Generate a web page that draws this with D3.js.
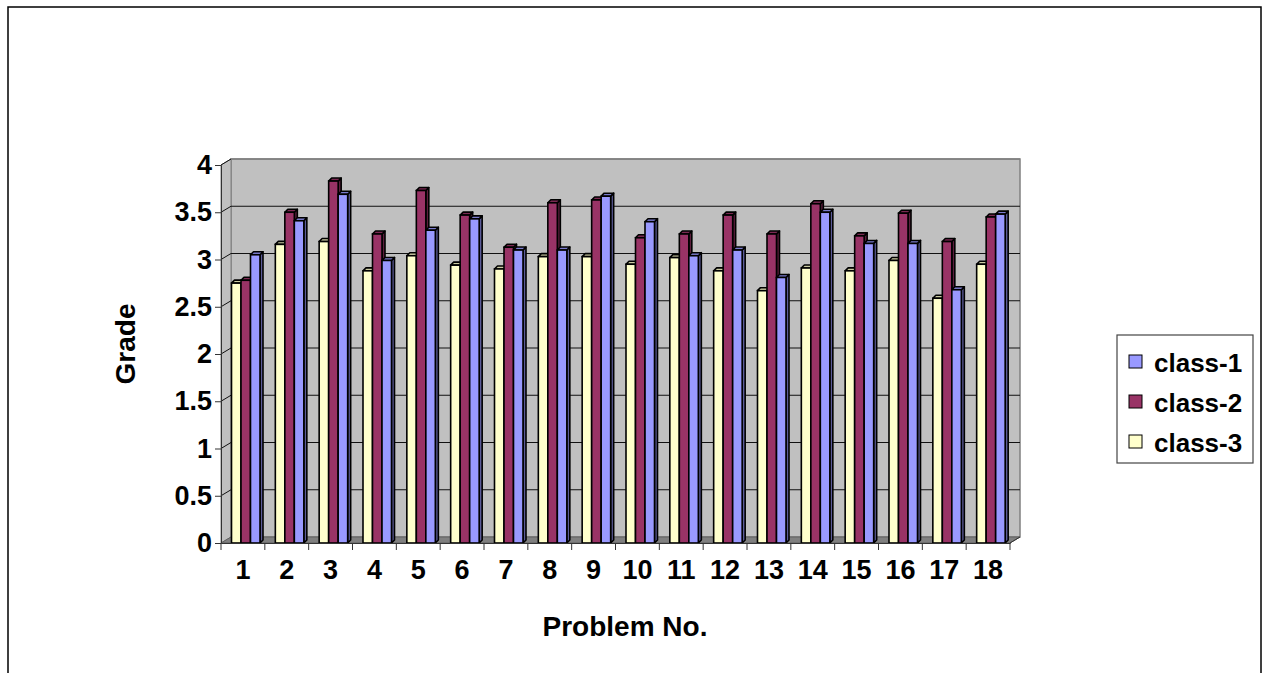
<!DOCTYPE html>
<html>
<head>
<meta charset="utf-8">
<script src="https://cdn.jsdelivr.net/npm/d3@7"></script>
<style>
  body { margin: 0; background: #fff; }
  text { font-family: "Liberation Sans", Arial, sans-serif; font-weight: bold; }
</style>
</head>
<body>
<div id="container"></div>
<script>
let w = 1269;
let h = 673;

// data
let problems = ["1","2","3","4","5","6","7","8","9","10","11","12","13","14","15","16","17","18"];
let seriesNames = ["class-3","class-2","class-1"];
let legendNames = ["class-1","class-2","class-3"];
let class1 = [3.05,3.41,3.69,2.99,3.31,3.43,3.10,3.10,3.67,3.40,3.04,3.10,2.81,3.50,3.17,3.17,2.68,3.48];
let class2 = [2.78,3.50,3.83,3.27,3.73,3.47,3.13,3.60,3.63,3.23,3.27,3.47,3.27,3.59,3.25,3.49,3.19,3.45];
let class3 = [2.75,3.16,3.19,2.88,3.04,2.94,2.90,3.03,3.03,2.95,3.02,2.88,2.67,2.91,2.88,2.99,2.59,2.95];
let yTicks = [0,0.5,1,1.5,2,2.5,3,3.5,4];

let values = {"class-1": class1, "class-2": class2, "class-3": class3};
let fills = {"class-1": "#9999FF", "class-2": "#993366", "class-3": "#FFFFCC"};
let sides = {"class-1": "#5C5C99", "class-2": "#5C1F3D", "class-3": "#99997A"};
let tops = {"class-1": "#7A7ACC", "class-2": "#7A2952", "class-3": "#CCCCA3"};

let viz = d3.select("#container")
  .append("svg")
    .attr("width", w)
    .attr("height", h)
    .style("background-color", "white")
;

// outer chart border
viz.append("rect")
  .attr("x", 8).attr("y", 7)
  .attr("width", 1253).attr("height", 720)
  .attr("fill", "none")
  .attr("stroke", "black")
  .attr("stroke-width", 1.5)
;

let left = 221, right = 1010;
let dx = 10, dy = -6;   // depth of the back wall

let xScale = d3.scaleBand().domain(problems).range([left, right]);
let yScale = d3.scaleLinear().domain([0, 4]).range([543, 165]);
let subScale = d3.scaleBand().domain(seriesNames).range([10.5, 39]);
let depth = 3;

let y0 = yScale(0), yTop = yScale(4);

// back wall
viz.append("rect")
  .attr("x", left + dx).attr("y", yTop + dy)
  .attr("width", right - left).attr("height", y0 - yTop)
  .attr("fill", "#C0C0C0")
  .attr("stroke", "#808080")
  .attr("stroke-width", 1.5)
;
// left side wall
viz.append("path")
  .attr("d", "M" + left + "," + y0 + "L" + left + "," + yTop + "L" + (left + dx) + "," + (yTop + dy) +
    "L" + (left + dx) + "," + (y0 + dy) + "Z")
  .attr("fill", "#C0C0C0")
  .attr("stroke", "#808080")
;
// floor
viz.append("path")
  .attr("d", "M" + left + "," + y0 + "L" + right + "," + y0 + "L" + (right + dx) + "," + (y0 + dy) +
    "L" + (left + dx) + "," + (y0 + dy) + "Z")
  .attr("fill", "#808080")
  .attr("stroke", "#606060")
;

// gridlines on the back wall and side wall
let grid = viz.selectAll(".grid").data(yTicks.slice(1)).enter().append("g").classed("grid", true);
grid.append("line")
  .attr("x1", left + dx).attr("x2", right + dx)
  .attr("y1", d => yScale(d) + dy).attr("y2", d => yScale(d) + dy)
  .attr("stroke", d => d == 4 ? "#808080" : "#111")
  .attr("stroke-width", d => d == 4 ? 1.5 : 1.2)
;
grid.append("line")
  .attr("x1", left).attr("x2", left + dx)
  .attr("y1", d => yScale(d)).attr("y2", d => yScale(d) + dy)
  .attr("stroke", "#111")
;

// bars
function barData() {
  let out = [];
  problems.forEach(function(p, i) {
    seriesNames.forEach(function(s) {
      out.push({problem: p, series: s, value: values[s][i]});
    });
  });
  return out;
}

let bw = subScale.bandwidth();
let bars = viz.selectAll(".bar").data(barData()).enter()
  .append("g")
    .classed("bar", true)
    .attr("transform", d => "translate(" + (xScale(d.problem) + subScale(d.series)) + ",0)")
;
bars.append("path")
  .attr("d", function(d) {
    let t = yScale(d.value);
    return "M" + bw + "," + t + "L" + (bw + depth) + "," + (t - depth) + "L" + (bw + depth) + "," + (y0 - depth) +
      "L" + bw + "," + y0 + "Z";
  })
  .attr("fill", d => sides[d.series])
  .attr("stroke", "black")
  .attr("stroke-width", 1.6)
  .attr("stroke-linejoin", "round")
;
bars.append("path")
  .attr("d", function(d) {
    let t = yScale(d.value);
    return "M0," + t + "L" + depth + "," + (t - depth) + "L" + (bw + depth) + "," + (t - depth) + "L" + bw + "," + t + "Z";
  })
  .attr("fill", d => tops[d.series])
  .attr("stroke", "black")
  .attr("stroke-width", 1.6)
  .attr("stroke-linejoin", "round")
;
bars.append("rect")
  .attr("x", 0)
  .attr("y", d => yScale(d.value))
  .attr("width", bw)
  .attr("height", d => y0 - yScale(d.value))
  .attr("fill", d => fills[d.series])
  .attr("stroke", "black")
  .attr("stroke-width", 1.6)
;

// y axis
let yAxis = d3.axisLeft(yScale).tickValues(yTicks).tickSize(6).tickPadding(3).tickFormat(d3.format("~g"));
let yg = viz.append("g").attr("transform", "translate(" + left + ",0)").call(yAxis);
yg.select(".domain").attr("stroke", "#333");
yg.selectAll(".tick line").attr("stroke", "#333");
yg.selectAll("text").attr("font-size", 27).attr("fill", "black").attr("font-family", null);

// x axis
let xAxis = d3.axisBottom(xScale).tickSize(0).tickPadding(17);
let xg = viz.append("g").attr("transform", "translate(0," + y0 + ")").call(xAxis);
xg.select(".domain").attr("stroke", "#333");
xg.selectAll("text").attr("font-size", 27).attr("fill", "black").attr("font-family", null);
xg.selectAll(".sep").data(problems.concat(["end"])).enter().append("line")
  .attr("x1", (d, i) => left + i * xScale.step()).attr("x2", (d, i) => left + i * xScale.step())
  .attr("y1", 0).attr("y2", 7)
  .attr("stroke", "#333")
;
// right floor edge
viz.append("line")
  .attr("x1", right).attr("y1", y0).attr("x2", right + dx).attr("y2", y0 + dy)
  .attr("stroke", "#333");

// axis titles
viz.append("text")
  .text("Problem No.")
  .attr("x", 625).attr("y", 636)
  .attr("text-anchor", "middle")
  .attr("font-size", 28)
;
viz.append("text")
  .text("Grade")
  .attr("transform", "translate(135,344) rotate(-90)")
  .attr("text-anchor", "middle")
  .attr("font-size", 28)
;

// legend
let legend = viz.append("g");
legend.append("rect")
  .attr("x", 1117).attr("y", 335)
  .attr("width", 136).attr("height", 128)
  .attr("fill", "white")
  .attr("stroke", "#444")
  .attr("stroke-width", 1.2)
;
let items = legend.selectAll(".item").data(legendNames).enter()
  .append("g")
    .classed("item", true)
    .attr("transform", (d, i) => "translate(1129," + (362 + i * 40) + ")")
;
items.append("rect")
  .attr("x", 0).attr("y", -7)
  .attr("width", 13).attr("height", 13)
  .attr("fill", d => fills[d])
  .attr("stroke", "black")
;
items.append("text")
  .text(d => d)
  .attr("x", 25).attr("y", 10)
  .attr("font-size", 26)
;
</script>
</body>
</html>
